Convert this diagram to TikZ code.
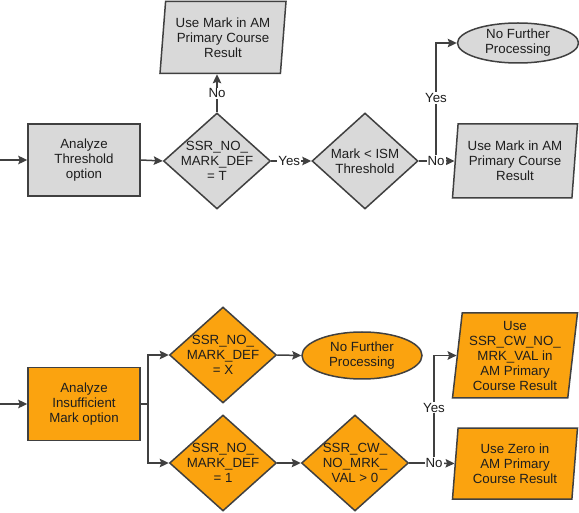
\documentclass[tikz,border=0pt]{standalone}
\usepackage{fontspec}
\setmainfont{Liberation Sans}
\usetikzlibrary{shapes.geometric,arrows.meta}
\definecolor{gfill}{HTML}{D9D9D9}
\definecolor{ofill}{HTML}{FBA30F}
\definecolor{lcol}{HTML}{404040}
\definecolor{tcol}{HTML}{1E1E1E}
\begin{document}
\begin{tikzpicture}[x=1pt,y=-1pt,
  every node/.style={font=\fontsize{13.3}{15}\selectfont, align=center, text=tcol},
  shp/.style={draw=lcol, line width=1.5pt},
  boxs/.style={shp, rectangle, minimum width=112pt, minimum height=72pt, inner sep=0pt},
  dia/.style={shp, diamond, minimum width=107pt, minimum height=96pt, inner sep=-10pt},
  ell/.style={shp, ellipse, minimum width=121pt, minimum height=40pt, inner sep=-5pt},
  para/.style={shp, trapezium, trapezium left angle=82, trapezium right angle=98,
     trapezium stretches body, minimum width=126pt, minimum height=72pt, inner sep=0pt},
  conn/.style={draw=lcol, line width=1.5pt},
  arr/.style={conn, -{Stealth[length=9pt,width=8.5pt,inset=1.5pt]}},
  lbl/.style={fill=white, inner sep=1pt}
]
\useasboundingbox (0,0) rectangle (579,513);

% ---------- top flow ----------
\node[boxs, fill=gfill] (b1) at (84,160) {Analyze\\Threshold\\option};
\node[dia, fill=gfill] (d1) at (217,161) {SSR\_NO\_\\MARK\_DEF\\= T};
\node[para, fill=gfill] (p1) at (223,37.5) {Use Mark in AM\\Primary Course\\Result};
\node[dia, fill=gfill, minimum width=106pt] (d2) at (365,161) {Mark < ISM\\Threshold};
\node[para, fill=gfill, minimum height=74pt, minimum width=125pt] (p2) at (515,161) {Use Mark in AM\\Primary Course\\Result};
\node[ell, fill=gfill] (e1) at (518,43) {No Further\\Processing};

\coordinate (in1) at (0,160);
\coordinate (f1) at (436,161);

\draw[arr] (in1) -- (b1.west);
\draw[arr] (b1.east) -- (d1.west);
\draw[arr] (d1.north) -- (d1.north |- p1.south) node[lbl, pos=0.5] {No};
\draw[arr] (d1.east) -- (d2.west) node[lbl, pos=0.45] {Yes};
\draw[conn] (d2.east) -- (f1);
\draw[arr] (f1) |- (e1.west) node[lbl, pos=0.267] {Yes};
\draw[arr] (f1) -- (p2.west);
\node[lbl] (n2) at (f1) {No};

% ---------- bottom flow ----------
\node[boxs, fill=ofill, minimum height=73pt] (b2) at (84,404) {Analyze\\Insufficient\\Mark option};
\node[dia, fill=ofill] (dx) at (223,355) {SSR\_NO\_\\MARK\_DEF\\= X};
\node[dia, fill=ofill] (dn) at (223,463) {SSR\_NO\_\\MARK\_DEF\\= 1};
\node[ell, fill=ofill, minimum width=120pt, minimum height=47pt] (e2) at (362,355.5) {No Further\\Processing};
\node[dia, fill=ofill] (d3) at (355,463) {SSR\_CW\_\\NO\_MRK\_\\VAL > 0};
\node[para, fill=ofill, minimum height=85pt, minimum width=125pt] (p3) at (515,355.5) {Use\\SSR\_CW\_NO\_\\MRK\_VAL in\\AM Primary\\Course Result};
\node[para, fill=ofill, minimum height=71pt, minimum width=125pt] (p4) at (515,463.5) {Use Zero in\\AM Primary\\Course Result};

\coordinate (in2) at (0,404);
\coordinate (f2) at (148,404);
\coordinate (f3) at (434,463);

\draw[arr] (in2) -- (b2.west);
\draw[conn] (b2.east) -- (f2);
\draw[arr] (f2) |- (dx.west);
\draw[arr] (f2) |- (dn.west);
\draw[arr] (dx.east) -- (e2.west);
\draw[arr] (dn.east) -- (d3.west);
\draw[conn] (d3.east) -- (f3);
\draw[arr] (f3) |- (p3.west) node[lbl, pos=0.257] {Yes};
\draw[arr] (f3) -- (p4.west);
\node[lbl] (n3) at (f3) {No};
\end{tikzpicture}
\end{document}
